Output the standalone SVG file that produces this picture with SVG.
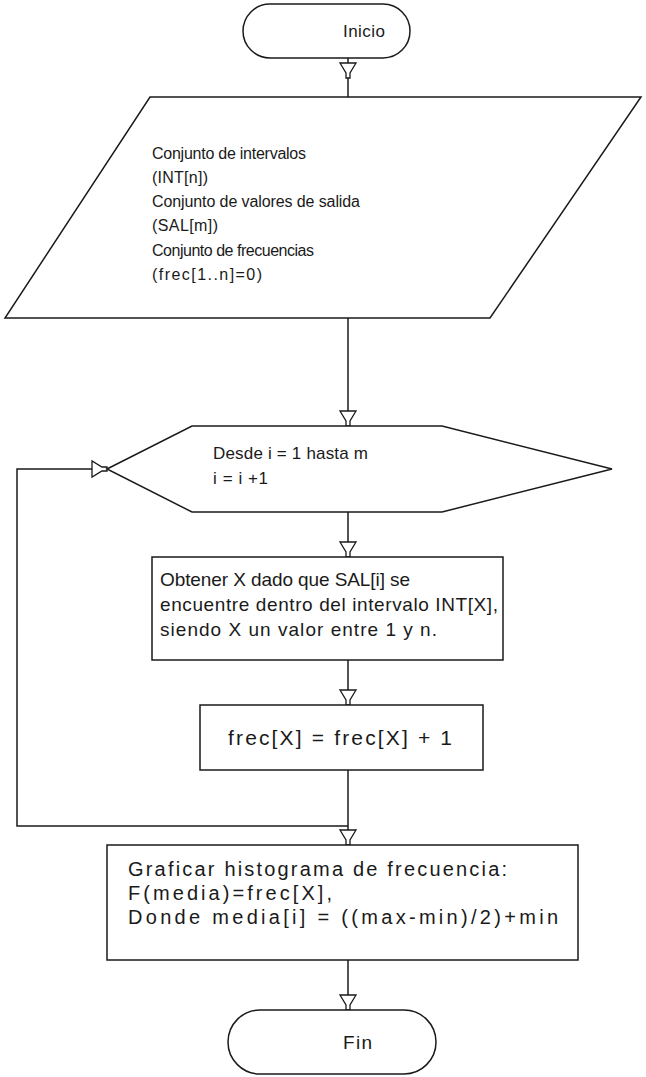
<svg xmlns="http://www.w3.org/2000/svg" xmlns:xlink="http://www.w3.org/1999/xlink" width="646" height="1077" viewBox="0 0 646 1077">
  <style>
    .shape { fill: #ffffff; stroke: #1a1a1a; stroke-width: 1.5; }
    .wire { fill: none; stroke: #1a1a1a; stroke-width: 1.5; }
    .head { fill: #ffffff; stroke: #1a1a1a; stroke-width: 1.3; stroke-linejoin: miter; }
    text { font-family: "Liberation Sans", Arial, sans-serif; font-size: 16px; fill: #1a1a1a; }
    .t17 { font-size: 17px; }
    .t19 { font-size: 19px; }
    .t20 { font-size: 20px; }
    .t21 { font-size: 21px; }
  </style>
  <defs>
    <!-- funnel-shaped arrowhead, tip at origin, pointing down -->
    <path id="ah" class="head" d="M-8,-15 L8,-15 L2,-5 L2,0 L-2,0 L-2,-5 Z"/>
  </defs>
  <rect width="646" height="1077" fill="#ffffff"/>

  <g id="connectors">
    <path class="wire" d="M348,58 V97"/>
    <path class="wire" d="M348,318 V426"/>
    <path class="wire" d="M348,512 V557"/>
    <path class="wire" d="M348,660 V705"/>
    <path class="wire" d="M348,770 V845"/>
    <path class="wire" d="M348,826 H17 V469 H107"/>
    <path class="wire" d="M348,960 V1010"/>
    <use xlink:href="#ah" x="348" y="78"/>
    <use xlink:href="#ah" x="348" y="426"/>
    <use xlink:href="#ah" x="348" y="557"/>
    <use xlink:href="#ah" x="348" y="705"/>
    <use xlink:href="#ah" x="348" y="845"/>
    <use xlink:href="#ah" x="348" y="1010"/>
    <use xlink:href="#ah" transform="translate(107,469) rotate(-90)"/>
  </g>

  <g id="inicio">
    <rect class="shape" x="243" y="4" width="167" height="54" rx="27" ry="27"/>
    <text class="t17" x="343" y="37" textLength="42" lengthAdjust="spacing">Inicio</text>
  </g>

  <g id="datos">
    <polygon class="shape" points="150,97 641,97 490,318 5,318"/>
    <text x="152" y="159" textLength="154" lengthAdjust="spacing">Conjunto de intervalos</text>
    <text x="152" y="183" textLength="56" lengthAdjust="spacing">(INT[n])</text>
    <text x="152" y="207" textLength="208" lengthAdjust="spacing">Conjunto de valores de salida</text>
    <text x="152" y="231" textLength="66" lengthAdjust="spacing">(SAL[m])</text>
    <text x="152" y="256" textLength="162" lengthAdjust="spacing">Conjunto de frecuencias</text>
    <text x="152" y="280" textLength="110" lengthAdjust="spacing">(frec[1..n]=0)</text>
  </g>

  <g id="ciclo">
    <polygon class="shape" points="107,469 192,426 442,426 612,469 442,512 192,512"/>
    <text class="t17" x="213" y="459" textLength="155" lengthAdjust="spacing">Desde i = 1 hasta m</text>
    <text class="t17" x="213" y="484" textLength="55" lengthAdjust="spacing">i = i +1</text>
  </g>

  <g id="obtener">
    <rect class="shape" x="152" y="557" width="351" height="103"/>
    <text class="t19" x="160" y="586" textLength="250" lengthAdjust="spacing">Obtener X dado que SAL[i] se</text>
    <text class="t19" x="160" y="611" textLength="338" lengthAdjust="spacing">encuentre dentro del intervalo INT[X],</text>
    <text class="t19" x="160" y="636" textLength="277" lengthAdjust="spacing">siendo X un valor entre 1 y n.</text>
  </g>

  <g id="incremento">
    <rect class="shape" x="200" y="705" width="283" height="65"/>
    <text class="t21" x="228" y="745" textLength="224" lengthAdjust="spacing">frec[X] = frec[X] + 1</text>
  </g>

  <g id="graficar">
    <rect class="shape" x="107" y="845" width="471" height="115"/>
    <text class="t20" x="128" y="876" textLength="379" lengthAdjust="spacing">Graficar histograma de frecuencia:</text>
    <text class="t20" x="128" y="900" textLength="204" lengthAdjust="spacing">F(media)=frec[X],</text>
    <text class="t20" x="128" y="924" textLength="430" lengthAdjust="spacing">Donde media[i] = ((max-min)/2)+min</text>
  </g>

  <g id="fin">
    <rect class="shape" x="228" y="1010" width="208" height="64" rx="32" ry="32"/>
    <text class="t19" x="343" y="1049" textLength="29" lengthAdjust="spacing">Fin</text>
  </g>
</svg>
